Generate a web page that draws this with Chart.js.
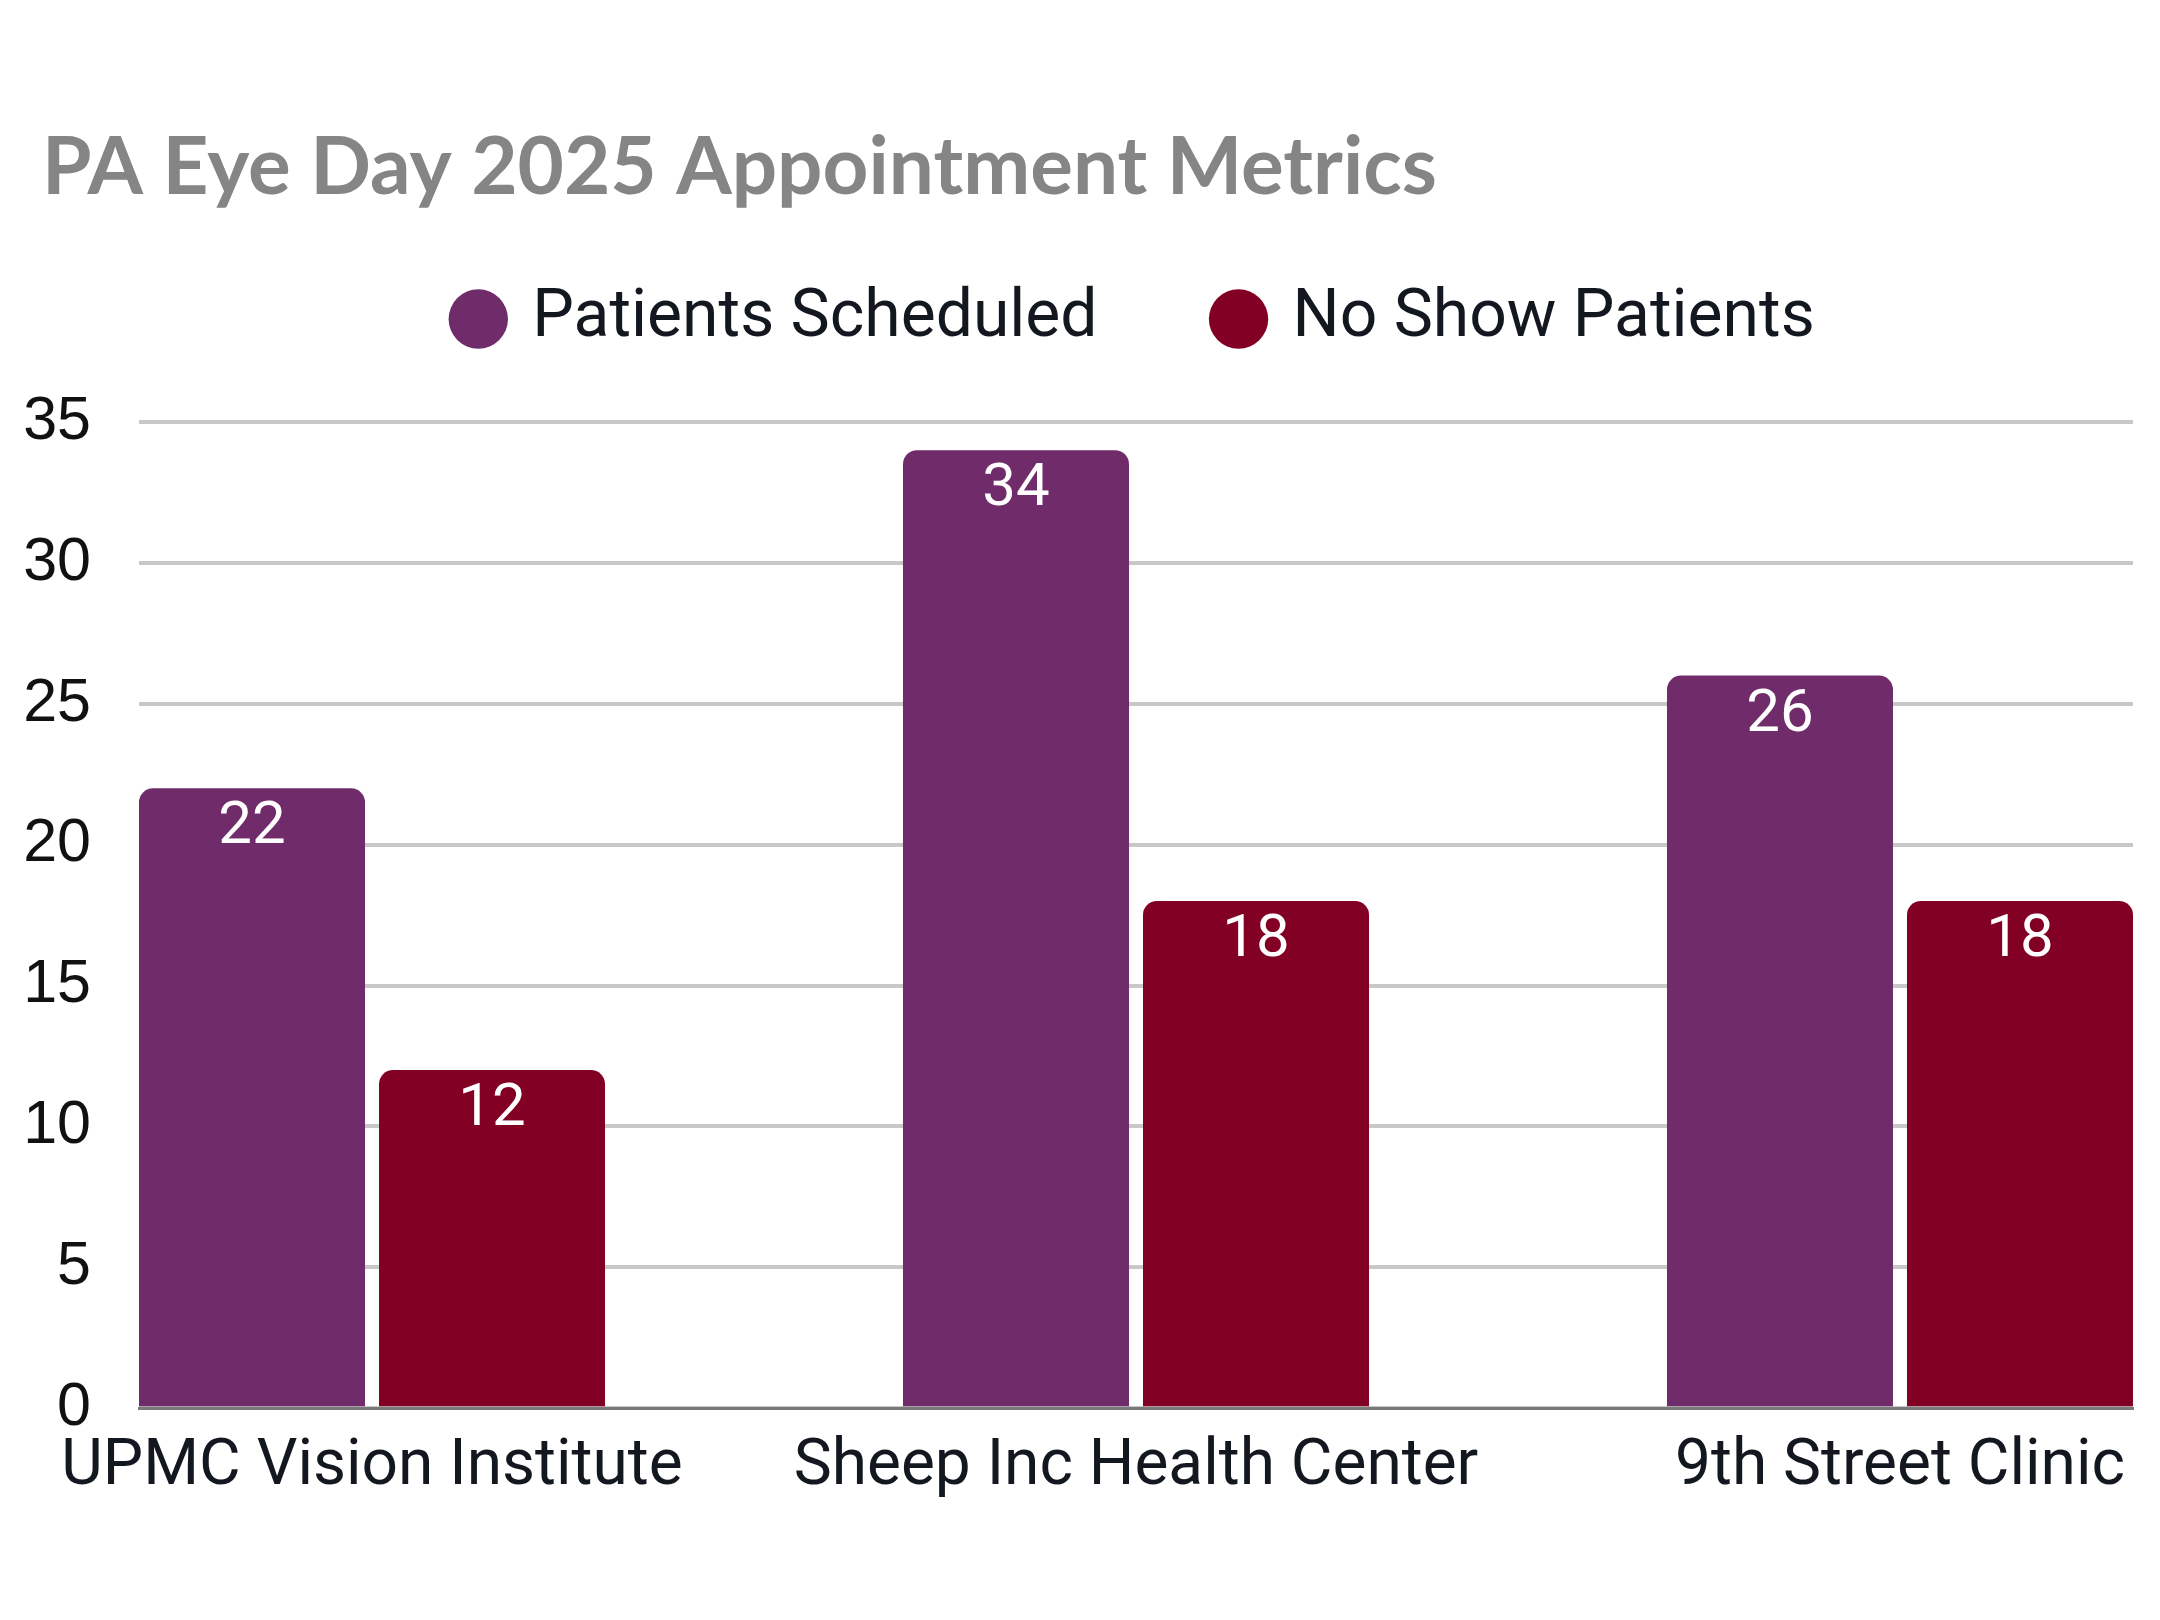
<!DOCTYPE html>
<html>
<head>
<meta charset="utf-8">
<script src="https://cdn.jsdelivr.net/npm/chart.js@4.4.1/dist/chart.umd.min.js"></script>
<style>
  html, body { margin: 0; padding: 0; background: #ffffff; }
  #wrap { width: 2160px; height: 1620px; }
</style>
</head>
<body>
<div id="wrap"><canvas id="c" width="2160" height="1620"></canvas></div>
<script>
// ---- data ----
const titleText = 'PA Eye Day 2025 Appointment Metrics';
const categories = ['UPMC Vision Institute', 'Sheep Inc Health Center', '9th Street Clinic'];
const seriesNames = ['Patients Scheduled', 'No Show Patients'];
const scheduled = [22, 34, 26];
const noShow = [12, 18, 18];
const yTicks = [0, 5, 10, 15, 20, 25, 30, 35];

// ---- styles ----
const PURPLE = '#702b6a';
const RED = '#820024';
const TEXT = '#131820';

const valueLabels = {
  id: 'valueLabels',
  afterDatasetsDraw(chart) {
    const ctx = chart.ctx;
    ctx.save();
    ctx.font = '400 60px Roboto';
    ctx.fillStyle = '#ffffff';
    ctx.textAlign = 'center';
    ctx.textBaseline = 'middle';
    chart.data.datasets.forEach((ds, di) => {
      const meta = chart.getDatasetMeta(di);
      meta.data.forEach((el, i) => {
        ctx.fillText(String(ds.data[i].y), el.x, el.y + 40);
      });
    });
    ctx.restore();
  }
};

// let the y tick labels extend left of the axis box without being clipped
const yLabelRoom = {
  id: 'yLabelRoom',
  afterLayout(chart) { chart.scales.y.left = 0; }
};

const toPoints = arr => arr.map((v, i) => ({ x: i, y: v }));

new Chart(document.getElementById('c'), {
  type: 'bar',
  data: {
    datasets: [
      { label: seriesNames[0], data: toPoints(scheduled), backgroundColor: PURPLE,
        borderRadius: 14, borderSkipped: 'start', categoryPercentage: 0.6283, barPercentage: 0.9417 },
      { label: seriesNames[1], data: toPoints(noShow), backgroundColor: RED,
        borderRadius: 14, borderSkipped: 'start', categoryPercentage: 0.6283, barPercentage: 0.9417 }
    ]
  },
  options: {
    responsive: false,
    devicePixelRatio: 1,
    animation: false,
    layout: { padding: { left: 42, right: 27, top: 0, bottom: 93 } },
    plugins: {
      tooltip: { enabled: false },
      title: {
        display: true,
        text: titleText,
        align: 'start',
        color: '#858585',
        font: { family: 'Lato', weight: '700', size: 80, lineHeight: 1.2 },
        padding: { top: 120, bottom: -50 }
      },
      legend: {
        display: true,
        position: 'top',
        fullSize: false,
        labels: {
          usePointStyle: true,
          pointStyle: 'circle',
          boxWidth: 42,
          boxHeight: 42,
          padding: 120,
          color: TEXT,
          font: { family: 'Roboto', size: 66, weight: '400' }
        }
      },
      subtitle: {
        display: true,
        text: '',
        weight: 500,
        font: { size: 10, lineHeight: 1 },
        padding: { top: 25, bottom: 25 }
      }
    },
    scales: {
      x: {
        type: 'linear',
        min: -0.305,
        max: 2.305,
        offset: false,
        grid: { display: false, drawTicks: false },
        border: { display: true, color: '#7a7a7a', width: 3 },
        afterBuildTicks: scale => { scale.ticks = categories.map((_, i) => ({ value: i })); },
        ticks: {
          autoSkip: false,
          maxRotation: 0,
          minRotation: 0,
          padding: 21,
          color: TEXT,
          font: { family: 'Roboto', size: 64, weight: '400' },
          callback: v => categories[v]
        }
      },
      y: {
        min: 0,
        max: 35,
        afterBuildTicks: scale => { scale.ticks = yTicks.map(v => ({ value: v })); },
        afterFit: scale => { scale.width = 97; },
        grid: { color: '#c8c8c8', lineWidth: 4, drawTicks: false },
        border: { display: false },
        ticks: {
          padding: 48,
          color: '#111111',
          font: { family: 'Liberation Sans', size: 61, weight: '400' }
        }
      }
    }
  },
  plugins: [valueLabels, yLabelRoom]
});
</script>
</body>
</html>
